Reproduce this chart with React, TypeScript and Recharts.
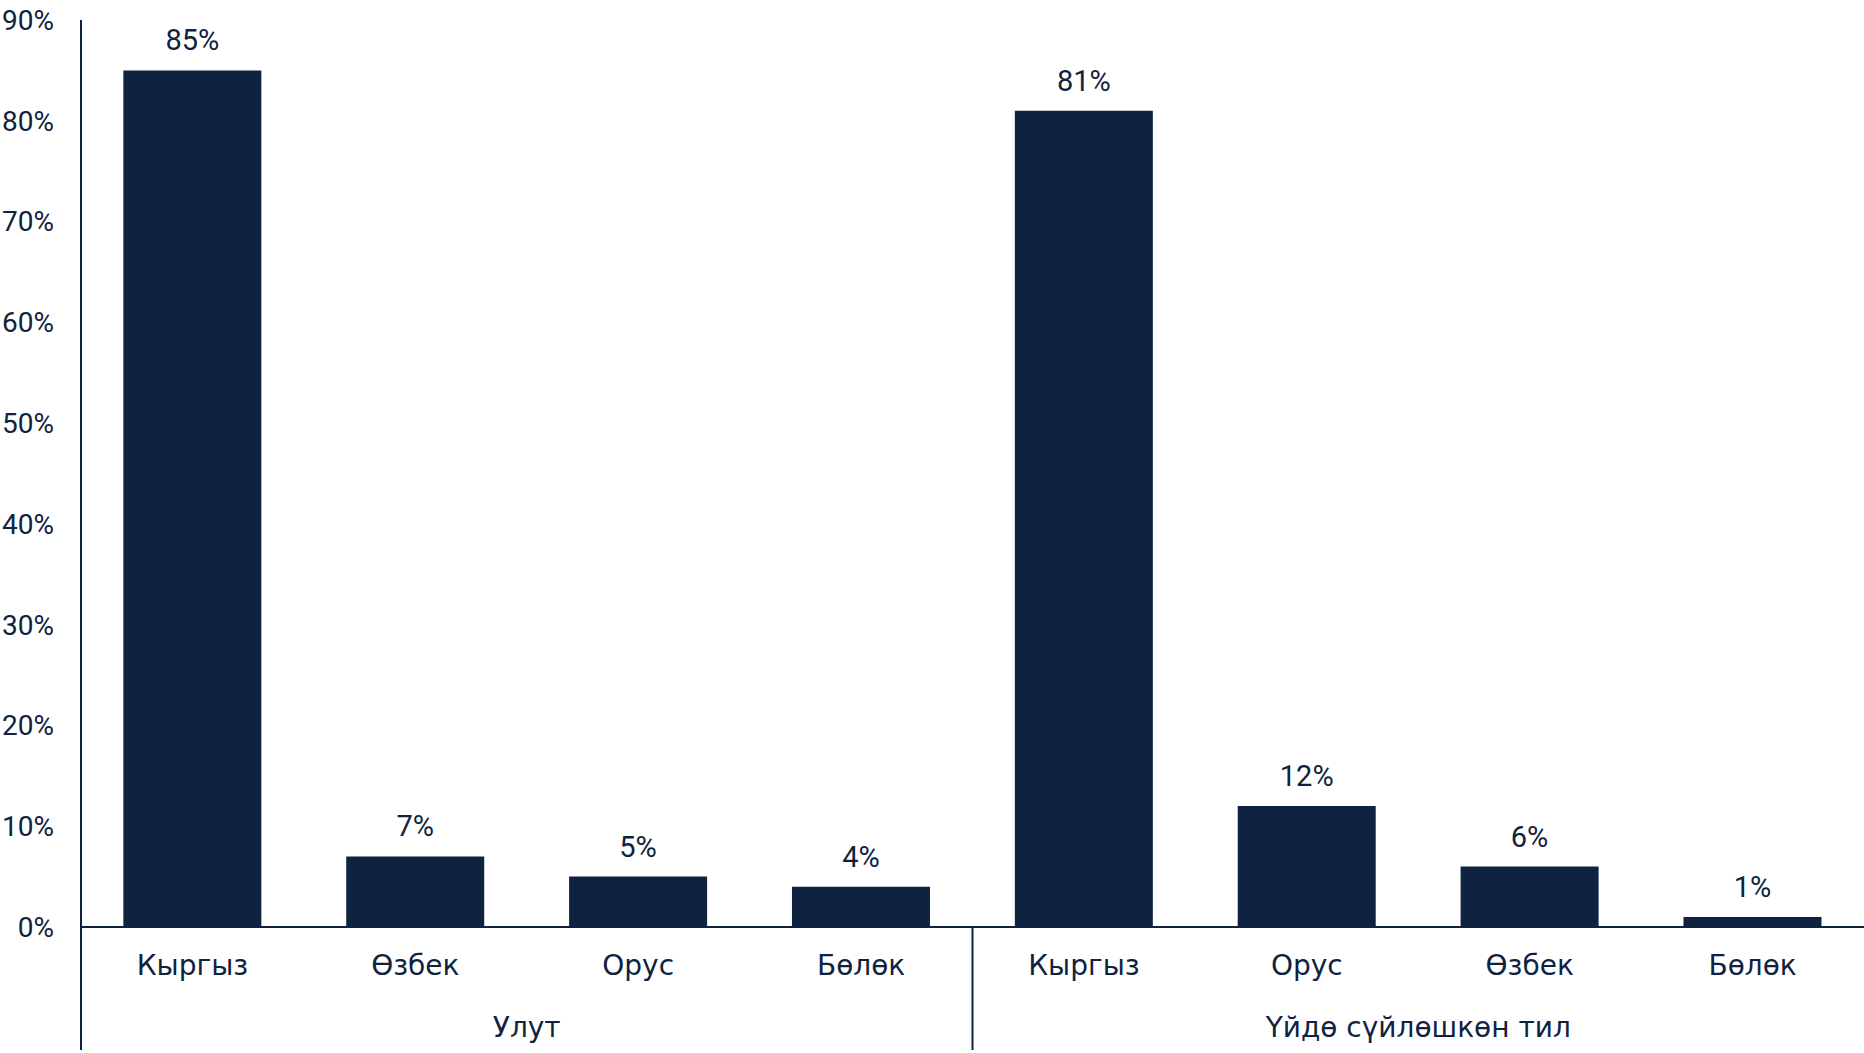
import { BarChart, Bar, XAxis, YAxis, LabelList } from "recharts"

const categories = ["Кыргыз", "Өзбек", "Орус", "Бөлөк", "Кыргыз", "Орус", "Өзбек", "Бөлөк"]
const values = [85, 7, 5, 4, 81, 12, 6, 1]
const groups = ["Улут", "Үйдө сүйлөшкөн тил"]
const groupSize = 4
const yTicks = [0, 10, 20, 30, 40, 50, 60, 70, 80, 90]

const W = 1864
const H = 1053
const AXIS_W = 81
const BAND = (W - AXIS_W) / categories.length
const NAVY = "#0f2340"
const FONT = "'DejaVu Sans', sans-serif"
const NUM_FONT = "Roboto, 'Noto Sans', sans-serif"

const data = categories.map((name, i) => ({ name, value: values[i] }))

function CategoryTick(props: any) {
  const { x, y, payload, index } = props
  const first = index % groupSize === 0
  const left = x - BAND / 2
  return (
    <g>
      <text x={x} y={y + 40} textAnchor="middle" fill={NAVY} fontSize={28} fontFamily={FONT}>
        {payload.value}
      </text>
      {first && (
        <>
          <line x1={left} y1={y - 8} x2={left} y2={H - 3} stroke={NAVY} strokeWidth={2} />
          <text x={left + BAND * groupSize / 2} y={y + 102} textAnchor="middle" fill={NAVY}
            fontSize={28} fontFamily={FONT}>
            {groups[index / groupSize]}
          </text>
        </>
      )}
    </g>
  )
}

export default function App() {
  return (
    <div style={{ position: "absolute", left: 0, top: 0, background: "#fff" }}>
      <BarChart width={W} height={H} data={data} barCategoryGap="19%"
        margin={{ top: 20, right: 0, bottom: 0, left: 0 }}>
        <XAxis dataKey="name" height={H - 927} tickLine={false}
          axisLine={{ stroke: NAVY, strokeWidth: 2 }} tick={<CategoryTick />} interval={0} />
        <YAxis width={AXIS_W} domain={[0, 90]} ticks={yTicks} tickFormatter={(v) => `${v}%`}
          tickLine={false} tickSize={0} axisLine={{ stroke: NAVY, strokeWidth: 2 }} tickMargin={27}
          tick={{ fill: NAVY, fontSize: 28, fontFamily: NUM_FONT }} />
        <Bar dataKey="value" fill={NAVY} isAnimationActive={false}>
          <LabelList dataKey="value" position="top" offset={20} formatter={(v: any) => `${v}%`}
            fill={NAVY} fontSize={29} fontFamily={NUM_FONT} />
        </Bar>
      </BarChart>
    </div>
  )
}
